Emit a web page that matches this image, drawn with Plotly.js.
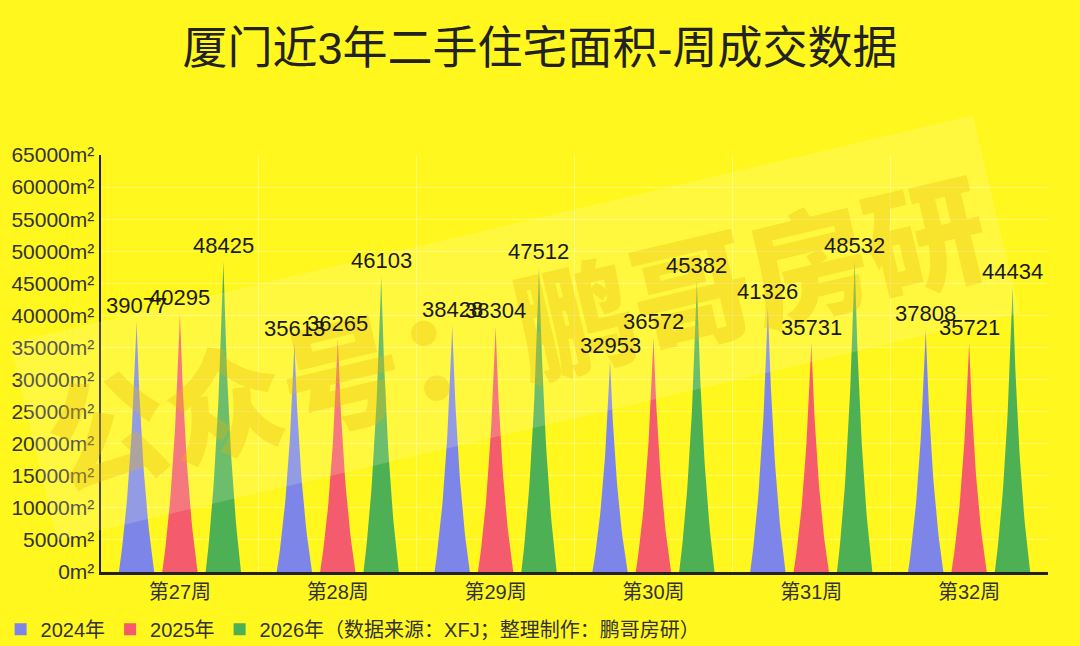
<!DOCTYPE html>
<html>
<head>
<meta charset="utf-8">
<script src="https://cdn.plot.ly/plotly-3.0.1.min.js"></script>
<style>
html,body{margin:0;padding:0;background:#FFF71E;}
#chart{width:1080px;height:646px;}
</style>
</head>
<body>
<div id="chart"></div>
<script>
// ---- data ----
const categories = ['第27周','第28周','第29周','第30周','第31周','第32周'];
const seriesNames = ['2024年','2025年','2026年（数据来源：XFJ；整理制作：鹏哥房研）'];
const values2024 = [39077, 35613, 38428, 32953, 41326, 37808];
const values2025 = [40295, 36265, 38304, 36572, 35731, 35721];
const values2026 = [48425, 46103, 47512, 45382, 48532, 44434];
const yTickVals = [0,5000,10000,15000,20000,25000,30000,35000,40000,45000,50000,55000,60000,65000];
const yTickText = ['0m²','5000m²','10000m²','15000m²','20000m²','25000m²','30000m²','35000m²','40000m²','45000m²','50000m²','55000m²','60000m²','65000m²'];
const titleText = '厦门近3年二手住宅面积-周成交数据';
const watermarkText = '公众号：鹏哥房研';

// ---- style ----
const colors = ['#7D86E8', '#F45B6C', '#4DB055'];
const offsets = [-0.275, 0, 0.275];
const halfW = 0.112;
const FONT = 'Liberation Sans, Noto Sans CJK SC, sans-serif';

// spike outline: half width fraction as a function of height fraction
function spikeShape(h){ return (1 - h) / (1 + 1.1 * h); }

function spikeTrace(vals, k){
  const xs = [], ys = [];
  vals.forEach((v, i) => {
    const cx = i + offsets[k];
    const N = 30;
    for (let j = 0; j <= N; j++){
      const h = j / N;
      xs.push(cx + halfW * spikeShape(h));
      ys.push(v * h);
    }
    for (let j = N - 1; j >= 0; j--){
      const h = j / N;
      xs.push(cx - halfW * spikeShape(h));
      ys.push(v * h);
    }
    xs.push(null); ys.push(null);
  });
  return {
    type: 'scatter', x: xs, y: ys, mode: 'lines', fill: 'toself',
    fillcolor: colors[k], line: {width: 0, color: colors[k]},
    hoverinfo: 'skip', showlegend: false, legendgroup: 's' + k
  };
}

function legendTrace(k){
  return {
    type: 'bar', x: [null], y: [null], name: seriesNames[k],
    marker: {color: colors[k]}, legendgroup: 's' + k, showlegend: true
  };
}

const allVals = [values2024, values2025, values2026];
const traces = [];
allVals.forEach((v, k) => traces.push(spikeTrace(v, k)));
allVals.forEach((v, k) => traces.push(legendTrace(k)));

// watermark first, value labels after so they are drawn on top
const annotations = [{
  xref: 'paper', yref: 'paper', x: 0.437, y: 0.585, xanchor: 'center', yanchor: 'middle',
  text: watermarkText, showarrow: false, textangle: -13.3,
  font: {family: 'Noto Sans CJK SC, sans-serif', size: 120, color: 'rgba(232,182,0,0.3)', weight: 900},
  bgcolor: 'rgba(255,255,215,0.18)', borderpad: 14
}];
allVals.forEach((vals, k) => {
  vals.forEach((v, i) => {
    annotations.push({
      xref: 'x', yref: 'y', x: i + offsets[k], y: v, text: String(v),
      showarrow: false, xanchor: 'center', yanchor: 'bottom', yshift: 1,
      font: {family: FONT, size: 22, color: '#1a1a1a'}
    });
  });
});

const layout = {
  width: 1080, height: 646,
  paper_bgcolor: '#FFF71E', plot_bgcolor: 'rgba(0,0,0,0)',
  margin: {l: 101, r: 32, t: 155, b: 74, autoexpand: false},
  font: {family: FONT, color: '#333'},
  title: {text: titleText, x: 0.5, xanchor: 'center', y: 0.926, yanchor: 'middle',
          font: {family: FONT, size: 45, color: '#222'}},
  xaxis: {
    range: [-0.5, 5.5], tickmode: 'array', tickvals: categories.map((c, i) => i), ticktext: categories,
    showgrid: false, zeroline: false, showline: true, linecolor: '#222', linewidth: 2.5,
    ticks: '', tickfont: {size: 20, color: '#333'}, fixedrange: true, automargin: false,
    minor: {tickmode: 'array', tickvals: categories.slice(1).map((c, i) => i + 0.5), showgrid: true,
            gridcolor: 'rgba(255,255,255,0.35)', gridwidth: 1, ticks: ''}
  },
  yaxis: {
    range: [0, 65000], tickmode: 'array', tickvals: yTickVals, ticktext: yTickText,
    showgrid: true, gridcolor: 'rgba(255,255,255,0.35)', gridwidth: 1, zeroline: false,
    showline: true, linecolor: '#222', linewidth: 2.5, ticks: '', automargin: false,
    tickfont: {size: 21, color: '#333'}, fixedrange: true
  },
  legend: {orientation: 'h', x: -0.106, xanchor: 'left', y: -0.137, yanchor: 'middle',
           font: {size: 20, color: '#333'}, bgcolor: 'rgba(0,0,0,0)', itemwidth: 30,
           traceorder: 'normal'},
  annotations: annotations,
  showlegend: true
};

Plotly.newPlot('chart', traces, layout, {displayModeBar: false, staticPlot: true});
</script>
</body>
</html>
